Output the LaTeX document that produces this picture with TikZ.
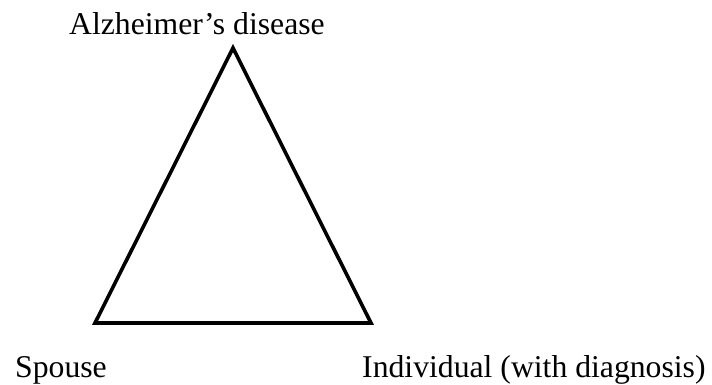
\documentclass[tikz,border=0pt]{standalone}
\usepackage{fontspec}
\setmainfont{Liberation Serif}
\tikzset{
  lbl/.style={inner sep=0pt, font=\fontsize{31.7}{36}\selectfont},
  edge/.style={line width=3.6pt, line join=miter}
}
\begin{document}
\begin{tikzpicture}[x=1pt,y=-1pt]
\useasboundingbox (0,0) rectangle (712,385);
\coordinate (top) at (233,48);
\coordinate (bl) at (95,323);
\coordinate (br) at (371,323);
\draw[edge] (top) -- (bl) -- (br) -- cycle;
\node[lbl, anchor=base west] (ad) at (69,35) {Alzheimer’s disease};
\node[lbl, anchor=base west] (sp) at (15,377) {Spouse};
\node[lbl, anchor=base west] (ind) at (362,377) {Individual (with diagnosis)};
\end{tikzpicture}
\end{document}
